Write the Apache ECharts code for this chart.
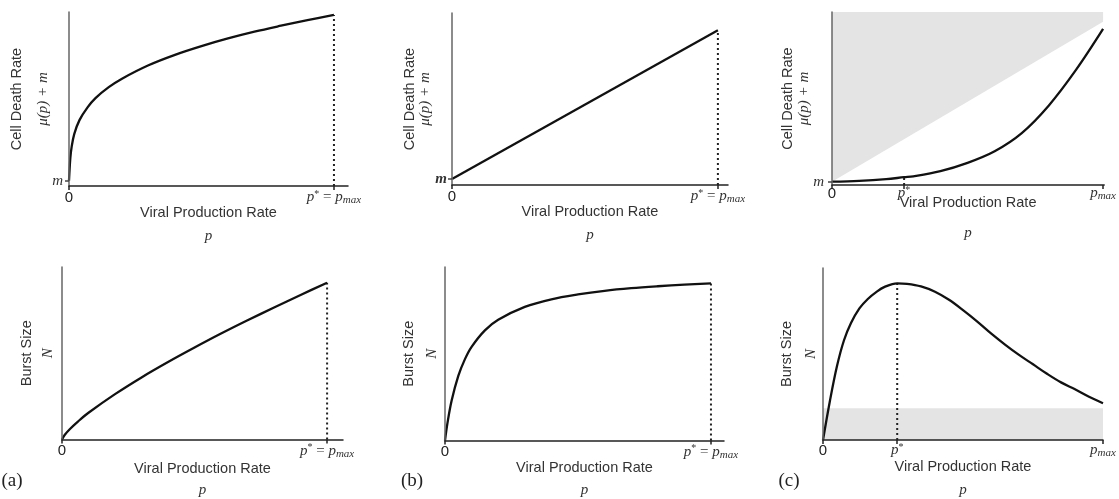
<!DOCTYPE html>
<html><head><meta charset="utf-8">
<script src="https://cdn.jsdelivr.net/npm/echarts@6/dist/echarts.min.js"></script>
<style>html,body{margin:0;padding:0;background:#fff}#c{width:1119px;height:499px}</style>
</head><body><div id="c"></div>
<script>
// ---------- data (x in units of p_max, y as fraction of axis height) ----------
const pTopA     = [0, 0.005, 0.01, 0.02, 0.04, 0.07, 0.1, 0.15, 0.2, 0.3, 0.4, 0.5, 0.6, 0.7, 0.8, 0.9, 1];
const deathTopA = [0.03, 0.16, 0.225, 0.30, 0.38, 0.452, 0.505, 0.568, 0.617, 0.694, 0.754, 0.804, 0.848, 0.887, 0.921, 0.953, 0.983];

const pTopB     = [0, 1];
const deathTopB = [0.035, 0.90];

const pTopC     = [0, 0.1, 0.2, 0.266, 0.3, 0.4, 0.5, 0.6, 0.7, 0.8, 0.9, 1];
const deathTopC = [0.019, 0.024, 0.034, 0.045, 0.05, 0.08, 0.128, 0.195, 0.30, 0.46, 0.665, 0.902];
const shadeTopCP = [0, 1];
const shadeTopCY = [0.019, 0.944];

const pBotA     = [0, 0.01, 0.03, 0.06, 0.1, 0.2, 0.3, 0.4, 0.5, 0.6, 0.7, 0.8, 0.9, 1];
const burstBotA = [0, 0.026, 0.061, 0.104, 0.155, 0.263, 0.36, 0.449, 0.533, 0.614, 0.691, 0.765, 0.838, 0.909];

const pBotB     = [0, 0.01, 0.025, 0.05, 0.075, 0.1, 0.15, 0.2, 0.3, 0.4, 0.5, 0.6, 0.7, 0.8, 0.9, 1];
const burstBotB = [0, 0.107, 0.23, 0.372, 0.469, 0.54, 0.635, 0.696, 0.77, 0.814, 0.842, 0.863, 0.878, 0.889, 0.898, 0.906];

const pBotC     = [0, 0.025, 0.05, 0.075, 0.1, 0.13, 0.16, 0.19, 0.22, 0.265, 0.3, 0.35, 0.4, 0.45, 0.5, 0.55, 0.6, 0.65, 0.7, 0.75, 0.8, 0.85, 0.9, 0.95, 1];
const burstBotC = [0, 0.23, 0.43, 0.58, 0.68, 0.765, 0.82, 0.86, 0.89, 0.911, 0.908, 0.893, 0.862, 0.815, 0.755, 0.69, 0.62, 0.555, 0.495, 0.44, 0.385, 0.335, 0.295, 0.252, 0.214];
const shadeBotCP = [0, 1];
const shadeBotCY = [0.184, 0.184];

const mLevels   = [0.03, 0.035, 0.019];      // m on the top-row y axes
const pStarTop  = [1, 1, 0.266];            // p* for top row (a,b,c)
const pStarBot  = [1, 1, 0.265];            // p* for bottom row (a,b,c)
const panelTags = ['(a)', '(b)', '(c)'];

// ---------- layout ----------
const SANS = 'Liberation Sans, Arial, sans-serif';
const SERIF = 'Liberation Serif, Times New Roman, serif';
const panels = [
  {left:69,  top:12,  width:279, height:174, xmax:1.053, yGap:13,  yL:26, xGap:15, xL1:24, xL2:22, mMargin:6, bold:false, lm:3},
  {left:452, top:13,  width:276, height:172, xmax:1.038, yGap:19.5,yL:15, xGap:15, xL1:24, xL2:22, mMargin:5, bold:true,  lm:3},
  {left:832, top:12,  width:279, height:173, xmax:1.004, yGap:20,  yL:16, xGap:6,  xL1:24, xL2:36, mMargin:8, bold:false, lm:0},
  {left:62,  top:267, width:281, height:174, xmax:1.06,  yGap:3.5, yL:21, xGap:18, xL1:22, xL2:22, lm:3},
  {left:445, top:267, width:279, height:174, xmax:1.049, yGap:1.5, yL:23, xGap:16, xL1:22, xL2:24, lm:3},
  {left:823, top:268, width:280, height:172, xmax:1.0,   yGap:0,   yL:24, xGap:16, xL1:22, xL2:24, lm:2}
];

const pairs = (xs, ys) => xs.map((x, i) => [x, ys[i]]);
const valAt = (xs, ys, x) => ys[xs.indexOf(x)];

const tickRich = {
  s:   {fontFamily: SANS, fontSize: 15, color: '#222', lineHeight: 17},
  i:   {fontFamily: SERIF, fontStyle: 'italic', fontSize: 15, color: '#333', lineHeight: 17},
  e:   {fontFamily: SERIF, fontSize: 15, color: '#333', lineHeight: 17},
  sup: {fontFamily: SERIF, fontSize: 10, color: '#333', lineHeight: 17, verticalAlign: 'top'},
  sub: {fontFamily: SERIF, fontStyle: 'italic', fontSize: 11, color: '#333', lineHeight: 17, verticalAlign: 'bottom'}
};

const grids = [], xAxes = [], yAxes = [], series = [];
const curves = [
  [pTopA, deathTopA], [pTopB, deathTopB], [pTopC, deathTopC],
  [pBotA, burstBotA], [pBotB, burstBotB], [pBotC, burstBotC]
];

panels.forEach((P, i) => {
  const top = i < 3;
  const col = i % 3;
  const pstar = top ? pStarTop[col] : pStarBot[col];
  const isC = col === 2;
  grids.push({left: P.left, top: P.top, width: P.width, height: P.height});
  const xt = isC ? [0, pstar, 1] : [0, 1];
  xAxes.push({
    type: 'value', gridIndex: i, min: 0, max: P.xmax, z: 5,
    axisLine: {show: true, onZero: false, lineStyle: {color: '#222', width: 1.5}},
    axisTick: {show: true, customValues: xt, length: 4, lineStyle: {color: '#222', width: 1.5}},
    axisLabel: {
      show: true, customValues: xt, margin: P.lm,
      formatter: v => {
        if (v === 0) return '{s|0}';
        if (isC && Math.abs(v - pstar) < 1e-9) return '{i|p}{sup|*}';
        if (isC) return '{i|p}{sub|max}';
        return '{i|p}{sup|*}{e| = }{i|p}{sub|max}';
      },
      rich: tickRich
    },
    splitLine: {show: false},
    name: '{v|Viral Production Rate}\n{p|p}',
    nameLocation: 'middle', nameGap: P.xGap, nameMoveOverlap: false,
    nameTextStyle: {rich: {
      v: {fontFamily: SANS, fontSize: 14.5, color: '#333', lineHeight: P.xL1},
      p: {fontFamily: SERIF, fontStyle: 'italic', fontSize: 15, color: '#333', lineHeight: P.xL2}
    }}
  });
  yAxes.push({
    type: 'value', gridIndex: i, min: 0, max: 1, z: 5,
    axisLine: {show: true, onZero: false, lineStyle: {color: '#666', width: 1.5}},
    axisTick: top ? {show: true, customValues: [mLevels[col]], length: 4, lineStyle: {color: '#444', width: 1.5}} : {show: false},
    axisLabel: top ? {show: true, customValues: [mLevels[col]], margin: P.mMargin, formatter: () => '{m|m}',
      rich: {m: {fontFamily: SERIF, fontStyle: 'italic', fontWeight: P.bold ? 'bold' : 'normal', fontSize: 15, color: '#333'}}} : {show: false},
    splitLine: {show: false},
    name: top ? '{a|Cell Death Rate}\n{b|μ(p) + m}' : '{a|Burst Size}\n{b|N}',
    nameLocation: 'middle', nameRotate: 90, nameGap: P.yGap, nameMoveOverlap: false,
    nameTextStyle: {rich: {
      a: {fontFamily: SANS, fontSize: 14.5, color: '#333', lineHeight: P.yL},
      b: {fontFamily: SERIF, fontStyle: 'italic', fontSize: 15, color: '#333', lineHeight: P.yL}
    }}
  });

  const [xs, ys] = curves[i];
  if (i === 2) {
    series.push({type: 'line', xAxisIndex: i, yAxisIndex: i, data: pairs(shadeTopCP, shadeTopCY),
      symbol: 'none', lineStyle: {width: 0}, areaStyle: {origin: 'end', color: '#e4e4e4', opacity: 1}, z: 1, silent: true});
  }
  if (i === 5) {
    series.push({type: 'line', xAxisIndex: i, yAxisIndex: i, data: pairs(shadeBotCP, shadeBotCY),
      symbol: 'none', lineStyle: {width: 0}, areaStyle: {origin: 'start', color: '#e4e4e4', opacity: 1}, z: 1, silent: true});
  }
  const yStar = valAt(xs, ys, pstar);
  series.push({type: 'line', xAxisIndex: i, yAxisIndex: i, data: [[pstar, 0], [pstar, yStar]],
    symbol: 'none', lineStyle: {color: '#222', width: 2, type: [2, 3]}, z: 2, silent: true, clip: false});
  series.push({type: 'line', xAxisIndex: i, yAxisIndex: i, data: pairs(xs, ys),
    symbol: 'none', smooth: 0.35, lineStyle: {color: '#111', width: 2.3}, z: 3, silent: true, clip: false});
});

const tagPos = [[12, 481], [412, 481], [789, 481]];
const graphic = panelTags.map((t, k) => ({
  type: 'text', x: tagPos[k][0], y: tagPos[k][1],
  style: {text: t, font: '19px ' + SERIF, fill: '#222', align: 'center', verticalAlign: 'middle', textAlign: 'center', textVerticalAlign: 'middle'}
}));

const chart = echarts.init(document.getElementById('c'), null, {renderer: 'canvas'});
chart.setOption({animation: false, backgroundColor: '#fff', grid: grids, xAxis: xAxes, yAxis: yAxes, series, graphic});
</script></body></html>
